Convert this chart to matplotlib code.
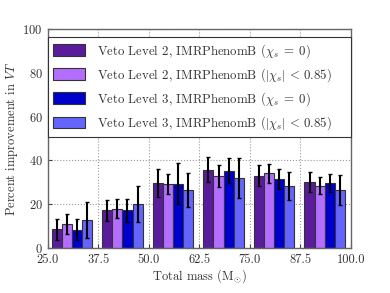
import numpy as np
import matplotlib
matplotlib.use("Agg")
import matplotlib.pyplot as plt

plt.rcParams['font.family'] = 'serif'
plt.rcParams['font.serif'] = ['cmr10', 'DejaVu Serif']
plt.rcParams['mathtext.fontset'] = 'cm'
plt.rcParams['axes.unicode_minus'] = False
plt.rcParams['axes.formatter.use_mathtext'] = True

# mass bins (lower edges) and bar values, one list per series
bin_edges = [25.0, 37.5, 50.0, 62.5, 75.0, 87.5, 100.0]
labels = [r'Veto Level 2, IMRPhenomB ($\chi_s\;=\;0$)',
          r'Veto Level 2, IMRPhenomB ($|\chi_s|\,<\,0.85$)',
          r'Veto Level 3, IMRPhenomB ($\chi_s\;=\;0$)',
          r'Veto Level 3, IMRPhenomB ($|\chi_s|\,<\,0.85$)']
colors = ['#5a1c9c', '#b46eff', '#0000cc', '#6464ff']

v2_nospin = [8.6, 17.2, 29.7, 35.8, 33.1, 30.2]
v2_spin = [10.9, 18.0, 29.1, 32.8, 34.2, 28.5]
v3_nospin = [8.3, 17.2, 29.4, 35.4, 31.5, 29.5]
v3_spin = [12.6, 20.0, 26.5, 31.8, 28.2, 26.6]

e_v2_nospin = [4.8, 4.7, 6.6, 5.8, 5.0, 4.5]
e_v2_spin = [4.5, 4.2, 4.6, 4.9, 4.3, 3.9]
e_v3_nospin = [4.8, 5.2, 9.5, 5.6, 4.7, 4.1]
e_v3_spin = [8.2, 8.3, 7.7, 9.1, 6.5, 6.9]

series = [v2_nospin, v2_spin, v3_nospin, v3_spin]
errors = [e_v2_nospin, e_v2_spin, e_v3_nospin, e_v3_spin]

fig = plt.figure(figsize=(3.9, 2.93), dpi=100)
ax = fig.add_axes([0.122, 0.154, 0.778, 0.746])

width = 2.5
left = np.array(bin_edges[:-1]) + 1.0
for i in range(4):
    ax.bar(left + i * width, series[i], width, align='edge', color=colors[i],
           edgecolor='#333333', linewidth=0.8, label=labels[i], zorder=2)
    ax.errorbar(left + i * width + width / 2, series[i], yerr=errors[i], fmt='none',
                ecolor='black', elinewidth=1.5, capsize=1.5, capthick=1.0, zorder=3)

ax.set_xlim(25, 100)
ax.set_ylim(0, 100)
ax.set_xticks(bin_edges)
ax.set_xticklabels(['%.1f' % b for b in bin_edges])
ax.set_yticks([0, 20, 40, 60, 80, 100])
ax.grid(True, linestyle=':', color='#999999', linewidth=0.8, zorder=0)
ax.set_axisbelow(True)
ax.tick_params(direction='in', labelsize=9, colors='#444444', labelcolor='#333333', length=3)
ax.tick_params(axis='x', pad=4)
for spine in ax.spines.values():
    spine.set_color('#666666')
    spine.set_linewidth(1.0)

ax.set_xlabel(r'Total mass (M$_{\odot}$)', fontsize=9, color='#333333', labelpad=1)
ax.set_ylabel(r'Percent improvement in $VT$', fontsize=9, color='#333333', labelpad=2)

leg = ax.legend(loc='upper left', bbox_to_anchor=(0, 0.966, 1, 0.0), mode='expand',
                fontsize=9.2, fancybox=False, framealpha=1, edgecolor='#333333',
                handlelength=2.5, handleheight=1.0, handletextpad=1.0, borderaxespad=0,
                labelspacing=0.5, borderpad=0.4)
leg.get_frame().set_linewidth(0.8)
for t in leg.get_texts():
    t.set_color('#333333')

fig.savefig('out.png', dpi=100)
